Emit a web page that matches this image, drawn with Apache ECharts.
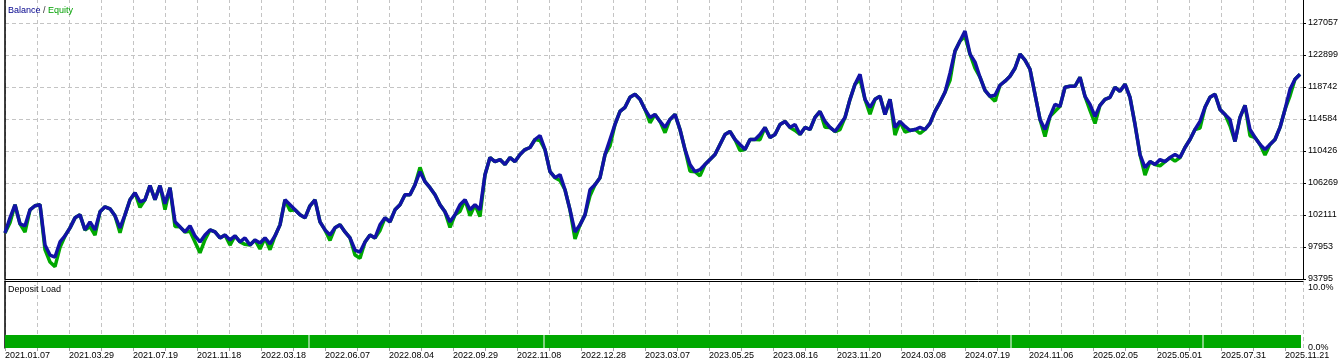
<!DOCTYPE html>
<html><head><meta charset="utf-8">
<script src="https://cdn.jsdelivr.net/npm/echarts@6/dist/echarts.min.js"></script>
<style>html,body{margin:0;padding:0;background:#fff}#c{width:1344px;height:364px}</style>
</head><body><div id="c"></div>
<script>
const dateLabels = ['2021.01.07','2021.03.29','2021.07.19','2021.11.18','2022.03.18','2022.06.07','2022.08.04','2022.09.29','2022.11.08','2022.12.28','2023.03.07','2023.05.25','2023.08.16','2023.11.20','2024.03.08','2024.07.19','2024.11.06','2025.02.05','2025.05.01','2025.07.31','2025.11.21'];
const yTickLabels = ['93795','97953','102111','106269','110426','114584','118742','122899','127057'];
const depositTickLabels = ['0.0%','10.0%'];

const balance = [
99780,101740,103440,100960,100700,102780,103310,103440,98220,96910,
96650,98610,99390,100440,101740,102130,100170,101220,100170,102520,
103180,102910,102000,100440,102130,104090,105000,103830,104090,105920,
104090,105920,103570,105660,101220,100570,99910,100700,99390,98610,
99520,100170,99910,99130,99520,98870,99390,98610,99130,98220,
98870,98480,99130,98350,99390,100830,104090,103440,102780,102130,
101740,103310,104090,101220,100170,99520,100440,100830,99910,99130,
97560,97300,98610,99520,99130,100830,101740,101220,102780,103440,
104740,104740,106050,107740,106440,105660,104740,103440,102520,101220,
102130,103440,104090,102780,103440,102780,107350,109570,109050,109310,
108660,109570,109050,109960,110610,110880,111920,112440,110610,107740,
106960,107350,105390,102780,99910,100830,102130,105390,106050,106960,
109960,111920,113880,115570,116100,117400,117790,117140,115830,114790,
115180,114270,113490,114530,115180,113220,110610,108660,107740,108000,
108660,109310,109960,111270,112570,112960,111920,111270,110610,111920,
111920,112570,113490,112180,112570,113880,114270,113490,113880,112570,
113490,113220,114790,115570,114270,113490,112960,113880,114790,117140,
119100,120400,117140,116100,117140,117530,115180,117140,113490,114270,
113620,113090,113220,113490,113220,114010,115570,116750,118050,120530,
123400,124710,126010,123010,121970,120010,118310,117530,117660,118970,
119490,120140,121180,123010,122230,121050,117790,114530,113220,114920,
116490,116230,118710,118840,118840,120010,117530,116490,114920,116360,
117140,117400,118710,118180,119100,117400,113880,109960,108270,109050,
108660,109310,109050,109570,109960,109570,110880,111920,113220,114270,
116100,117400,117790,115830,115180,114530,111660,114790,116360,113220,
112180,111270,110610,111270,111920,113490,115830,118440,119750,120400
];
const equity = [
99780,101100,103440,100960,99900,102780,103310,103440,97600,96000,
95400,97900,99390,100440,101740,102130,100170,100600,99500,102520,
103180,102910,102000,99800,102130,104090,105000,103100,104090,105920,
104090,105920,102800,105660,100600,100570,99910,100000,98600,97200,
98900,100170,99910,99130,99520,98200,99390,98610,98300,98220,
98870,97700,99130,97600,99390,100830,104090,102700,102780,102130,
101740,103310,104090,101220,100170,98800,100440,100830,99910,99130,
96900,96500,98610,99520,99130,100100,101740,101220,102780,103440,
104740,104740,106050,108300,106440,105660,104740,103440,102520,100500,
102130,102600,104090,102000,103440,101900,107350,109570,109050,109310,
108660,109570,109050,109960,110610,110880,111920,111800,110610,107740,
106960,106600,105390,102780,99000,100830,102130,104600,106050,106960,
109960,111100,113880,115570,116100,117400,117790,117140,115830,114100,
115180,114270,112800,114530,115180,113220,110610,107800,107740,107200,
108660,109310,109960,111270,112570,112960,111920,110500,110610,111920,
111920,111900,113490,112180,112570,113880,114270,113490,113100,112570,
113490,113220,114790,115570,113500,113490,112960,113200,114790,117140,
119100,119700,117140,115200,117140,117530,115180,117140,112500,114270,
112900,113090,113220,112700,113220,114010,115570,116750,118050,119600,
123400,124710,125300,123010,121200,120010,118310,117530,116900,118970,
119490,120140,121180,123010,122230,121050,117790,114530,112300,114920,
115600,116230,118710,118840,118840,120010,117530,115700,114000,116360,
117140,117400,118710,118180,119100,117400,113880,109960,107300,109050,
108660,108500,109050,109570,109100,109570,110880,111920,113220,113400,
116100,117400,117790,115830,115180,113700,111660,114790,116360,112400,
112180,111270,109900,111270,111920,113490,115830,117600,119750,120400
];
const depositStart = [0, 60.9, 107.9, 201.3, 239.7];
const depositEnd   = [60.7, 107.7, 201.1, 239.5, 259.2];
const depositLoad  = [2.15, 2.15, 2.15, 2.15, 2.15];

const Y_MIN = 93795, Y_STEP = 4157.75, Y_MAX = Y_MIN + 8.75 * Y_STEP;
const X_MAX = 259.6, X_STEP = 6.4;
const DL_MAX = 67 / 6;
const FONT = 'Liberation Sans';
const BLUE = '#1212a6', GREEN = '#00a800';
const gridDash = {show: true, lineStyle: {color: '#c4c4c4', type: [4, 3], width: 1}};
const lbl = {color: '#000', fontFamily: FONT, fontSize: 9};

const chart = echarts.init(document.getElementById('c'), null, {renderer: 'canvas'});
chart.setOption({
  animation: false,
  backgroundColor: '#fff',
  title: [
    {left: 8, top: 6, padding: 0, text: '{b|Balance} {s|/} {g|Equity}',
     textStyle: {fontSize: 9, fontFamily: FONT, fontWeight: 'normal',
       rich: {b: {color: '#00008b', fontSize: 9, fontFamily: FONT},
              s: {color: '#333', fontSize: 9, fontFamily: FONT},
              g: {color: '#00a000', fontSize: 9, fontFamily: FONT}}}},
    {left: 8, top: 285, padding: 0, text: 'Deposit Load',
     textStyle: {fontSize: 9, fontFamily: FONT, fontWeight: 'normal', color: '#000'}}
  ],
  grid: [
    {left: 5, top: -1, width: 1298, height: 280, outerBoundsMode: 'none'},
    {left: 5, top: 281, width: 1298, height: 67, outerBoundsMode: 'none'}
  ],
  xAxis: [
    {gridIndex: 0, type: 'value', min: 0, max: X_MAX, interval: X_STEP, position: 'bottom',
     axisLine: {show: true, onZero: false, lineStyle: {color: '#000', width: 1}},
     axisTick: {show: false}, axisLabel: {show: false}, splitLine: gridDash},
    {gridIndex: 1, type: 'value', min: 0, max: X_MAX, interval: X_STEP, position: 'bottom',
     axisLine: {show: false, onZero: false},
     axisTick: {show: true, length: 3, lineStyle: {color: '#a0a0a0'}},
     axisLabel: Object.assign({}, lbl, {align: 'left', margin: 3, showMaxLabel: false,
       formatter: v => {
         const k = Math.round(v / X_STEP);
         if (Math.abs(v - k * X_STEP) > 1e-3 || k % 2) return '';
         return dateLabels[k / 2] || '';
       }}),
     splitLine: gridDash},
    {gridIndex: 1, type: 'value', min: 0, max: X_MAX, position: 'top',
     axisLine: {show: true, onZero: false, lineStyle: {color: '#000', width: 1}},
     axisTick: {show: false}, axisLabel: {show: false}, splitLine: {show: false}}
  ],
  yAxis: [
    {gridIndex: 0, type: 'value', position: 'right', min: Y_MIN, max: Y_MAX, interval: Y_STEP,
     axisLine: {show: true, onZero: false, lineStyle: {color: '#000', width: 1}},
     axisTick: {show: true, length: 3, lineStyle: {color: '#000'}},
     axisLabel: Object.assign({}, lbl, {margin: 5, showMaxLabel: false,
       formatter: v => {
         const k = Math.round((v - Y_MIN) / Y_STEP);
         return (k >= 0 && k < yTickLabels.length && Math.abs(v - (Y_MIN + k * Y_STEP)) < 1) ? yTickLabels[k] : '';
       }}),
     splitLine: gridDash},
    {gridIndex: 1, type: 'value', position: 'right', min: 0, max: DL_MAX, interval: 10,
     axisLine: {show: false, onZero: false}, axisTick: {show: false},
     axisLabel: Object.assign({}, lbl, {margin: 5, showMaxLabel: false,
       formatter: v => {
         const k = Math.round(v / 10);
         return (Math.abs(v - k * 10) < 1e-6 && k < depositTickLabels.length) ? depositTickLabels[k] : '';
       }}),
     splitLine: {show: false}},
    {gridIndex: 0, type: 'value', position: 'left', min: 0, max: 1,
     axisLine: {show: true, onZero: false, lineStyle: {color: '#000', width: 1.5}},
     axisTick: {show: false}, axisLabel: {show: false}, splitLine: {show: false}},
    {gridIndex: 1, type: 'value', position: 'left', min: 0, max: 1,
     axisLine: {show: true, onZero: false, lineStyle: {color: '#000', width: 1.5}},
     axisTick: {show: false}, axisLabel: {show: false}, splitLine: {show: false}}
  ],
  series: [
    {type: 'line', name: 'Equity', xAxisIndex: 0, yAxisIndex: 0, silent: true,
     data: equity.map((v, i) => [i, v]), showSymbol: false, z: 2,
     lineStyle: {color: GREEN, width: 3.5}},
    {type: 'line', name: 'Balance', xAxisIndex: 0, yAxisIndex: 0, silent: true,
     data: balance.map((v, i) => [i, v]), showSymbol: false, z: 3,
     lineStyle: {color: BLUE, width: 3.5}},
    {type: 'custom', name: 'Deposit Load', xAxisIndex: 1, yAxisIndex: 1, silent: true,
     data: depositStart.map((s, i) => [s, depositEnd[i], depositLoad[i]]),
     encode: {x: [0, 1], y: 2},
     renderItem: (params, api) => {
       const a = api.coord([api.value(0), api.value(2)]);
       const b = api.coord([api.value(1), 0]);
       return {type: 'rect', shape: {x: a[0], y: a[1], width: b[0] - a[0], height: b[1] - a[1]},
               style: {fill: GREEN}};
     }}
  ]
});
</script></body></html>
